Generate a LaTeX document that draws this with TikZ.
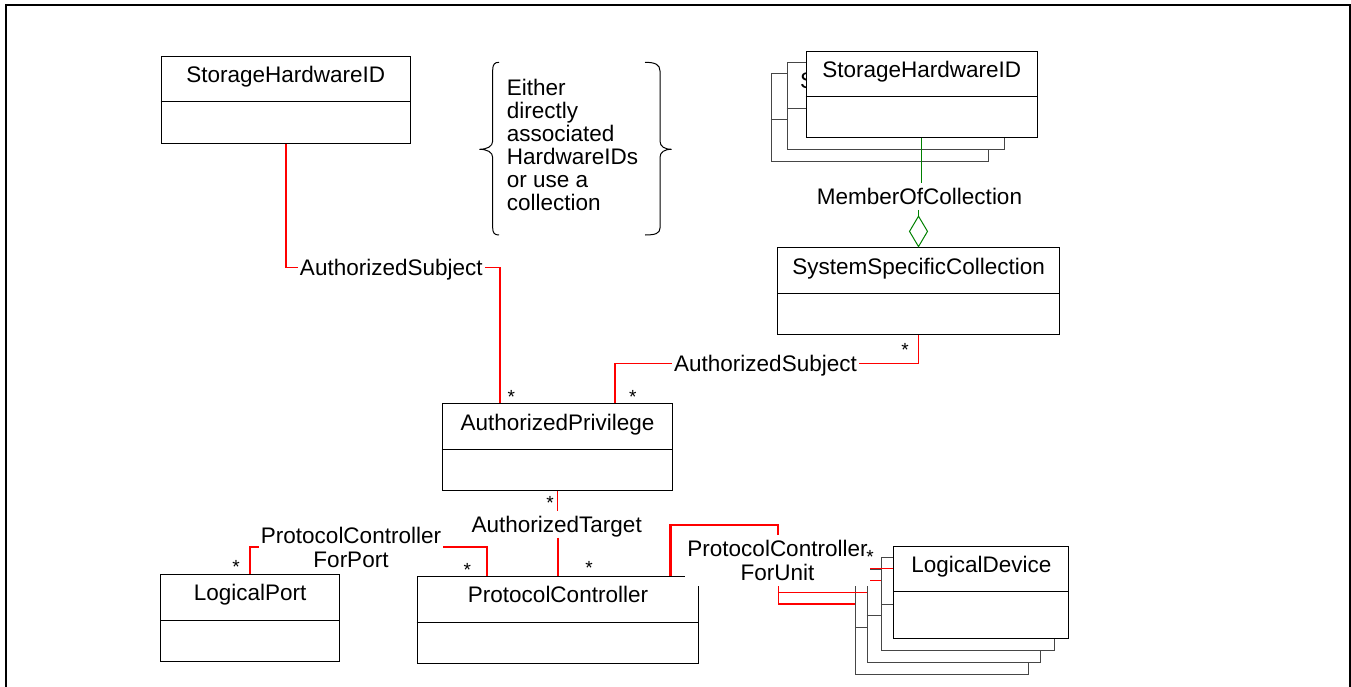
\documentclass[tikz,border=0pt]{standalone}
\usepackage{fontspec}
\setmainfont{Liberation Sans}
\usetikzlibrary{shapes.geometric}
\definecolor{assocred}{RGB}{255,0,0}
\definecolor{agggreen}{RGB}{0,128,0}
\definecolor{backgray}{RGB}{70,70,70}
\newcommand{\umlbox}[6][]{%
  \node[cls,#1,minimum width=#4,minimum height=#5,anchor=north west] (#2) at #3 {};
  \draw[line width=1pt,#1] ([yshift=-#6]#2.north west) -- ([yshift=-#6]#2.north east);
}
\begin{document}
\begin{tikzpicture}[x=1pt,y=-1pt,
  every node/.style={font=\fontsize{22.5}{27}\selectfont},
  cls/.style={draw=black,fill=white,line width=1pt,inner sep=0pt},
  back/.style={draw=backgray},
  clstxt/.style={inner sep=0pt},
  lbl/.style={fill=white,inner xsep=2pt,inner ysep=5pt,text height=16.1pt,text depth=0pt},
  lbl2/.style={fill=white,inner xsep=2pt,inner ysep=5pt,align=center,font=\fontsize{22.5}{24.2}\selectfont},
  mult/.style={inner sep=0pt,font=\fontsize{19}{19}\selectfont,yshift=-3.7pt},
  assoc/.style={draw=assocred,line width=1.5pt},
  assocthick/.style={draw=assocred,line width=2.2pt},
  agg/.style={draw=agggreen,line width=1.5pt},
]
\useasboundingbox (0,0) rectangle (1351,687);
% frame
\draw[line width=2pt] (6,700) -- (6,5) -- (1349.6,5) -- (1349.6,700);

% classes
\umlbox{sh1}{(160.7,56)}{249.3}{87.3}{46}
\node[clstxt,anchor=base] (sh1t) at ([yshift=-27]sh1.north) {StorageHardwareID};

\umlbox[back]{sh4}{(770.7,73.3)}{217.6}{87.7}{46.7}
\umlbox[back]{sh3}{(786.7,62.3)}{217.3}{86.7}{46}
\node[clstxt,anchor=base west] (sh3t) at (800,88.3) {S};
\umlbox{sh2}{(805.7,50.7)}{231}{86.6}{46}
\node[clstxt,anchor=base] (sh2t) at ([yshift=-27]sh2.north) {StorageHardwareID};

\umlbox{ssc}{(777.3,247.3)}{281.7}{87}{46}
\node[clstxt,anchor=base] (ssct) at ([yshift=-27.5]ssc.north) {SystemSpecificCollection};

\umlbox{ap}{(441.7,403.3)}{230.6}{86.7}{46}
\node[clstxt,anchor=base] (apt) at ([yshift=-27]ap.north) {AuthorizedPrivilege};

\umlbox{pc}{(416.7,576)}{281.6}{86.7}{46.3}
\node[clstxt,anchor=base] (pct) at ([yshift=-26.5]pc.north) {ProtocolController};

\umlbox{lp}{(160,574)}{179.3}{87}{46}
\node[clstxt,anchor=base] (lpt) at ([yshift=-26.5]lp.north) {LogicalPort};

\umlbox[back]{ld4}{(855,581)}{172.7}{93.3}{46.7}
\umlbox[back]{ld3}{(866.7,569.3)}{173.3}{92.4}{46.4}
\umlbox[back]{ld2}{(881,557.3)}{173.3}{92.7}{46.7}
\umlbox{ld1}{(893.3,545.7)}{175}{92}{46}
\node[clstxt,anchor=base] (ld1t) at ([yshift=-26.6]ld1.north) {LogicalDevice};

% brace note
\draw[line width=1pt] (499,62.3) .. controls (494.5,62.3) and (492.7,64.5) .. (492.7,70) -- (492.7,141) .. controls (492.7,146.5) and (487,149.3) .. (479.3,149.3) .. controls (487,149.3) and (492.7,152) .. (492.7,157.5) -- (492.7,228) .. controls (492.7,233) and (494.5,235) .. (499,235);
\draw[line width=1pt] (645,62.3) .. controls (655,62.3) and (660,64.5) .. (660,71) -- (660,141) .. controls (660,146.5) and (664.5,149.3) .. (671.7,149.3) .. controls (664.5,149.3) and (660,152) .. (660,157.5) -- (660,228) .. controls (660,233.5) and (655,235) .. (645,235);
\node[anchor=north west,inner sep=0pt,align=left,font=\fontsize{22.5}{23.1}\selectfont] (note) at (506.7,78.6) {Either\\directly\\associated\\HardwareIDs\\or use a\\collection};

% labels
\node[lbl] (as1) at (391.3,267.7) {AuthorizedSubject};
\node[lbl] (as2) at (765.5,363.3) {AuthorizedSubject};
\node[lbl] (mem) at (919.5,196.7) {MemberOfCollection};
\node[lbl] (at) at (556.7,524.3) {AuthorizedTarget};
\node[lbl2] (fp) at (351,547.2) {ProtocolController\\ForPort};
\node[diamond,draw=agggreen,line width=1pt,minimum width=18.4,minimum height=30.8,inner sep=0pt,anchor=south] (dia) at (918.5,247.3) {};

% connectors
\draw[agg] (mem.south -| dia.north) -- (dia.north);
\draw[agg] (sh2.south) -- (sh2.south |- mem.north);
\draw[assoc] (ap.south) -- (ap.south |- at.north);
\draw[assoc] (pc.north |- at.south) -- (pc.north);
\draw[assoc] ([xshift=57.3]ap.north) |- (as2.west);
\draw[assoc] (as2.east) -| (ssc.south);
\draw[assoc] (sh1.south) |- (as1.west);
\draw[assoc] (as1.east) -| ([xshift=-57.7]ap.north);
\draw[assoc] (lp.north) |- (fp.west);
\draw[assoc] (fp.east) -| ([xshift=-70.8]pc.north);

% ProtocolControllerForUnit
\coordinate (fu) at (778.3,560.5);
\draw[assocthick] ([xshift=112.5]pc.north) -- ++(0,-51) -| (fu);
\foreach \b in {ld1,ld2,ld3,ld4} \draw[assoc] (fu) |- ([yshift=-23]\b.north west);
\node[lbl2] (fulbl) at (777.5,560.5) {ProtocolController\\ForUnit};

% multiplicities
\node[mult] (m1) at (511.3,393.5) {*};
\node[mult] (m2) at (632.7,393.5) {*};
\node[mult] (m3) at (905,346.7) {*};
\node[mult] (m4) at (550,499.3) {*};
\node[mult] (m5) at (236,563.3) {*};
\node[mult] (m6) at (467.3,566) {*};
\node[mult] (m7) at (589,564) {*};
\node[mult] (m8) at (870,553) {*};
\end{tikzpicture}
\end{document}
